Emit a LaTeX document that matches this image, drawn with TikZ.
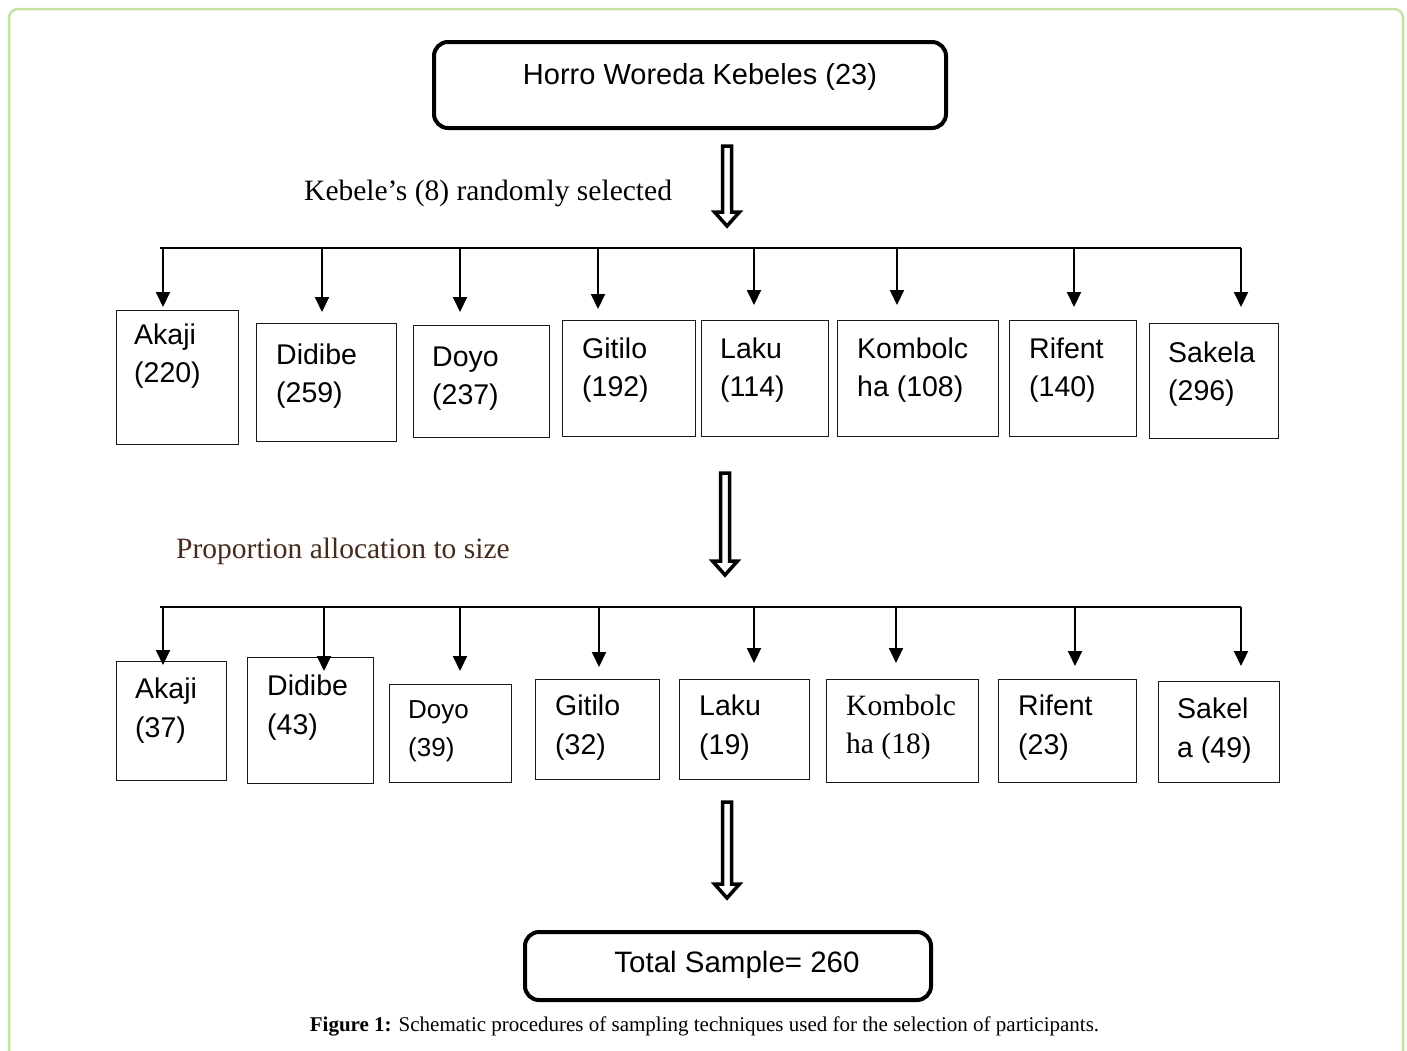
\documentclass[tikz,border=0pt]{standalone}
\usepackage{fontspec}
\setmainfont{Liberation Serif}
\setsansfont{Liberation Sans}
\usetikzlibrary{arrows.meta,calc}

\definecolor{framegreen}{RGB}{196,226,160}
\definecolor{notebrown}{RGB}{70,42,28}

% hollow block arrow pointing down, from #1 to #2
\newcommand{\hollowdown}[2]{%
  \draw[hollow] let \p1=(#1), \p2=(#2) in
    (\x1-4.5pt,\y1) -- (\x1+4.5pt,\y1) -- (\x1+4.5pt,\y2+14pt)
    -- (\x1+12.5pt,\y2+14pt) -- (\x1,\y2) -- (\x1-12.5pt,\y2+14pt)
    -- (\x1-4.5pt,\y2+14pt) -- cycle;}

\begin{document}
\begin{tikzpicture}[x=1pt,y=-1pt,
    frame/.style={draw=framegreen,line width=2.5pt,rounded corners=9pt},
    bigbox/.style={draw,line width=4pt,rounded corners=14pt},
    bigtext/.style={inner sep=0pt,anchor=base,font=\sffamily\fontsize{29}{35}\selectfont},
    note/.style={inner sep=0pt,anchor=base west,font=\fontsize{29.5}{35}\selectfont},
    kbox/.style={draw=black!90,line width=1.3pt,anchor=north west,inner sep=0pt},
    ktext/.style={anchor=north west,inner sep=0pt,align=left,font=\sffamily\fontsize{28.5}{38}\selectfont},
    ktextb/.style={ktext,font=\sffamily\fontsize{28.5}{39}\selectfont},
    ksmall/.style={ktext,font=\sffamily\fontsize{26}{38}\selectfont},
    kserif/.style={ktext,font=\fontsize{29.5}{38}\selectfont},
    bus/.style={line width=2pt},
    drop/.style={line width=2pt,-{Triangle[width=14pt,length=15pt]}},
    hollow/.style={draw,fill=white,line width=3.5pt,miter limit=10}]
  \useasboundingbox (0,0) rectangle (1407,1050);
  \draw[frame] (9,1060) -- (9,9) -- (1403,9) -- (1403,1060);

  % top of the scheme
  \node[bigbox,minimum width=512pt,minimum height=86pt] (horro) at (690,85) {};
  \node[bigtext] (horrotxt) at (700,84) {Horro Woreda Kebeles (23)};
  \coordinate (a1s) at (727,146);
  \coordinate (a1e) at (727,226);
  \hollowdown{a1s}{a1e}
  \node[note] (select) at (304,200) {Kebele’s (8) randomly selected};

  % first row: kebele sizes
  \coordinate (bus1w) at (160,248);
  \coordinate (bus1e) at (1241,248);
  \draw[bus] (bus1w) -- (bus1e);
  \foreach \i/\xl/\yt/\w/\h/\ax/\tip/\tx/\ty/\sty/\txt in {
      1/116/310/122/134/163/307/134/344/ktext/{Akaji\\(220)},
      2/256/323/140/118/322/312/276/364/ktext/{Didibe\\(259)},
      3/413/325/136/112/460/312/432/366/ktext/{Doyo\\(237)},
      4/562/320/133/116/598/309/582/358/ktext/{Gitilo\\(192)},
      5/701/320/127/116/754/305/720/358/ktext/{Laku\\(114)},
      6/837/320/161/116/897/305/857/358/ktext/{Kombolc\\ha (108)},
      7/1009/320/127/116/1074/307/1029/358/ktext/{Rifent\\(140)},
      8/1149/323/129/115/1241/307/1168/362/ktext/{Sakela\\(296)}} {
    \node[kbox,minimum width=\w pt,minimum height=\h pt] (r\i) at (\xl,\yt) {};
    \node[\sty] (rt\i) at (\tx,\ty-26.6) {\strut\txt};
    \coordinate (rd\i) at (\ax,\tip);
    \draw[drop] (bus1w -| rd\i) -- (rd\i);
  }

  \coordinate (a2s) at (725,473);
  \coordinate (a2e) at (725,575);
  \hollowdown{a2s}{a2e}
  \node[note,text=notebrown] (alloc) at (176,558) {Proportion allocation to size};

  % second row: sample per kebele
  \coordinate (bus2w) at (160,607);
  \coordinate (bus2e) at (1241,607);
  \draw[bus] (bus2w) -- (bus2e);
  \foreach \i/\xl/\yt/\w/\h/\ax/\tip/\tx/\ty/\sty/\txt in {
      1/116/661/110/119/163/665/135/698/ktextb/{Akaji\\(37)},
      2/247/657/126/126/324/671/267/695/ktextb/{Didibe\\(43)},
      3/389/684/122/98/460/671/408/718/ksmall/{Doyo\\(39)},
      4/535/679/124/100/599/667/555/715/ktextb/{Gitilo\\(32)},
      5/679/679/130/100/754/663/699/715/ktextb/{Laku\\(19)},
      6/826/679/152/103/896/663/846/715/kserif/{Kombolc\\ha (18)},
      7/998/679/138/103/1075/666/1018/715/ktextb/{Rifent\\(23)},
      8/1158/681/121/101/1241/666/1177/718/ktextb/{Sakel\\a (49)}} {
    \node[kbox,minimum width=\w pt,minimum height=\h pt] (s\i) at (\xl,\yt) {};
    \node[\sty] (st\i) at (\tx,\ty-26.6) {\strut\txt};
    \coordinate (sd\i) at (\ax,\tip);
    \draw[drop] (bus2w -| sd\i) -- (sd\i);
  }

  \coordinate (a3s) at (727,802);
  \coordinate (a3e) at (727,898);
  \hollowdown{a3s}{a3e}

  % total
  \node[bigbox,minimum width=406pt,minimum height=68pt] (total) at (728,966) {};
  \node[bigtext,font=\sffamily\fontsize{29.5}{35}\selectfont] (totaltxt) at (737,972) {Total Sample= 260};

  \node[inner sep=0pt,anchor=base,font=\fontsize{21}{25}\selectfont] (caption) at (704.5,1031)
    {\textbf{Figure 1:} Schematic procedures of sampling techniques used for the selection of participants.};
\end{tikzpicture}
\end{document}
